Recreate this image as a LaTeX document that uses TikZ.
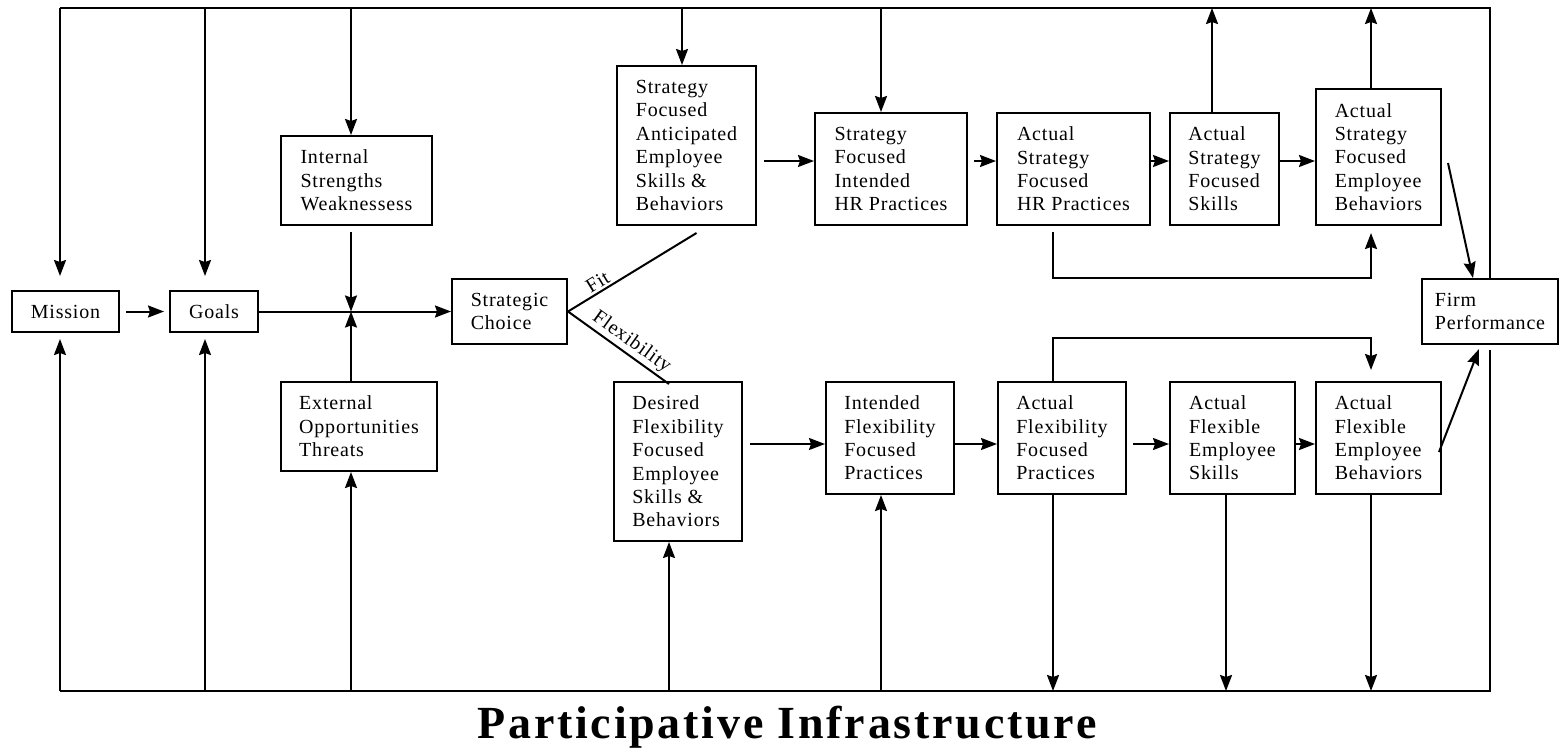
\documentclass[tikz,border=0pt]{standalone}
\usepackage{fontspec}
\setmainfont{Liberation Serif}
\newfontfamily\boxfont[LetterSpace=4]{Liberation Serif}
\newfontfamily\titlefont[LetterSpace=6]{Liberation Serif}
\usetikzlibrary{arrows.meta, calc}

\begin{document}
\begin{tikzpicture}[
    x=1pt, y=-1pt,
    box/.style={draw, line width=2pt, align=left, inner sep=0pt, font=\boxfont\fontsize{20}{23.4}\selectfont},
    arrow/.style={-{Stealth[length=16pt, width=12pt, inset=2pt]}, line width=2pt},
    link/.style={line width=2pt},
    tag/.style={font=\boxfont\fontsize{20}{24}\selectfont, sloped, above, inner sep=2pt}
]
    \useasboundingbox (0,0) rectangle (1560,750);

    % Strategy formulation
    \node[box, minimum width=107pt, minimum height=41pt] (mission) at (65.5,311.5) {Mission};
    \node[box, minimum width=88pt, minimum height=41pt] (goals) at (214,311.5) {Goals};
    \node[box, minimum width=151pt, minimum height=89pt] (isw) at (356.5,180.5) {Internal\\Strengths\\Weaknessess};
    \node[box, minimum width=156pt, minimum height=89pt] (eot) at (359,426.5) {External\\Opportunities\\Threats};
    \node[box, minimum width=115pt, minimum height=65pt] (choice) at (509.5,311.5) {Strategic\\Choice};

    % Fit row
    \node[box, minimum width=139pt, minimum height=159pt] (antic) at (686.5,145.5) {Strategy\\Focused\\Anticipated\\Employee\\Skills \&\\Behaviors};
    \node[box, minimum width=152pt, minimum height=112pt] (sihr) at (891,169) {Strategy\\Focused\\Intended\\HR Practices};
    \node[box, minimum width=153pt, minimum height=112pt] (ashr) at (1073.5,169) {Actual\\Strategy\\Focused\\HR Practices};
    \node[box, minimum width=109pt, minimum height=112pt] (asskill) at (1224.5,169) {Actual\\Strategy\\Focused\\Skills};
    \node[box, minimum width=125pt, minimum height=136pt] (asbeh) at (1378.5,157) {Actual\\Strategy\\Focused\\Employee\\Behaviors};

    % Flexibility row
    \node[box, minimum width=128pt, minimum height=159pt] (desired) at (678,461.5) {Desired\\Flexibility\\Focused\\Employee\\Skills \&\\Behaviors};
    \node[box, minimum width=128pt, minimum height=112pt] (iffp) at (890,438) {Intended\\Flexibility\\Focused\\Practices};
    \node[box, minimum width=128pt, minimum height=112pt] (affp) at (1062,438) {Actual\\Flexibility\\Focused\\Practices};
    \node[box, minimum width=125pt, minimum height=112pt] (afskill) at (1232.5,438) {Actual\\Flexible\\Employee\\Skills};
    \node[box, minimum width=125pt, minimum height=112pt] (afbeh) at (1378.5,438) {Actual\\Flexible\\Employee\\Behaviors};

    \node[box, minimum width=136pt, minimum height=65pt] (firm) at (1490,311.5) {Firm\\Performance};

    % Taps on the top and bottom lines
    \coordinate (tm) at (60,8);
    \coordinate (tg) at (205,8);
    \coordinate (ti) at (351,8);
    \coordinate (ta) at (682,8);
    \coordinate (ts) at (881,8);
    \coordinate (tk) at (1212,8);
    \coordinate (tb) at (1371,8);
    \coordinate (tr) at (1490,8);
    \coordinate (bm) at (60,691);
    \coordinate (bg) at (205,691);
    \coordinate (be) at (351,691);
    \coordinate (bd) at (669,691);
    \coordinate (bi) at (881,691);
    \coordinate (bp) at (1053,691);
    \coordinate (bk) at (1226,691);
    \coordinate (bb) at (1371,691);
    \coordinate (br) at (1490,691);
    \coordinate (srow) at (0,161);
    \coordinate (frow) at (0,444);
    \coordinate (sloop) at (0,278);
    \coordinate (floop) at (0,338);

    % Participative infrastructure lines
    \draw[link] (tm) -- (tr) -- (tr |- firm.north);
    \draw[link] ($(tr |- firm.south)+(0,5)$) -- (br) -- (bm);

    % Down from the top line
    \draw[arrow, shorten >=14pt] (tm) -- (tm |- mission.north);
    \draw[arrow, shorten >=14pt] (tg) -- (tg |- goals.north);
    \draw[arrow] (ti) -- (ti |- isw.north);
    \draw[arrow] (ta) -- (ta |- antic.north);
    \draw[arrow] (ts) -- (ts |- sihr.north);
    \draw[arrow] (tk |- asskill.north) -- (tk);
    \draw[arrow] (tb |- asbeh.north) -- (tb);

    % Up from the bottom line
    \draw[arrow, shorten >=6pt] (bm) -- (bm |- mission.south);
    \draw[arrow, shorten >=6pt] (bg) -- (bg |- goals.south);
    \draw[arrow] (be) -- (be |- eot.south);
    \draw[arrow] (bd) -- (bd |- desired.south);
    \draw[arrow] (bi) -- (bi |- iffp.south);
    \draw[arrow] (bp |- affp.south) -- (bp);
    \draw[arrow] (bk |- afskill.south) -- (bk);
    \draw[arrow] (bb |- afbeh.south) -- (bb);

    % Mission, goals, environment
    \coordinate (jn) at (ti |- goals.east);
    \draw[arrow, shorten <=6pt, shorten >=5pt] (mission) -- (goals);
    \draw[arrow] (goals) -- (choice);
    \draw[arrow] ($(ti |- isw.south)+(0,6)$) -- (jn);
    \draw[arrow] (ti |- eot.north) -- (jn);

    % Fit / flexibility
    \draw[link] (choice.east) -- node[tag, pos=0.27] {Fit} ($(antic.south)+(10,7)$);
    \draw[link] (choice.east) -- node[tag, pos=0.56] {Flexibility} ($(desired.north)+(-9,3)$);

    \draw[arrow, shorten <=7pt] (antic.east |- srow) -- (sihr.west |- srow);
    \draw[arrow, shorten <=6pt] (sihr.east |- srow) -- (ashr.west |- srow);
    \draw[arrow] (ashr.east |- srow) -- (asskill.west |- srow);
    \draw[arrow] (asskill.east |- srow) -- (asbeh.west |- srow);

    \draw[arrow, shorten <=7pt] (desired.east |- frow) -- (iffp.west |- frow);
    \draw[arrow] (iffp.east |- frow) -- (affp.west |- frow);
    \draw[arrow, shorten <=6pt] (affp.east |- frow) -- (afskill.west |- frow);
    \draw[arrow] (afskill.east |- frow) -- (afbeh.west |- frow);

    % Practices to behaviors
    \draw[arrow] ($(bp |- ashr.south)+(0,6)$) -- (bp |- sloop) -- (bb |- sloop) -- ($(bb |- asbeh.south)+(0,7)$);
    \draw[arrow] (bp |- affp.north) -- (bp |- floop) -- (bb |- floop) -- ($(bb |- afbeh.north)+(0,-11)$);

    % Performance
    \draw[arrow] ($(asbeh.east)+(6,6)$) -- ($(firm.north)+(-17,0)$);
    \draw[arrow] ($(afbeh.east)+(-3,14)$) -- ($(firm.south)+(-11,4)$);

    \node[font=\titlefont\bfseries\fontsize{46}{50}\selectfont, anchor=base] (title) at (787,738) {Participative Infrastructure};

\end{tikzpicture}
\end{document}
